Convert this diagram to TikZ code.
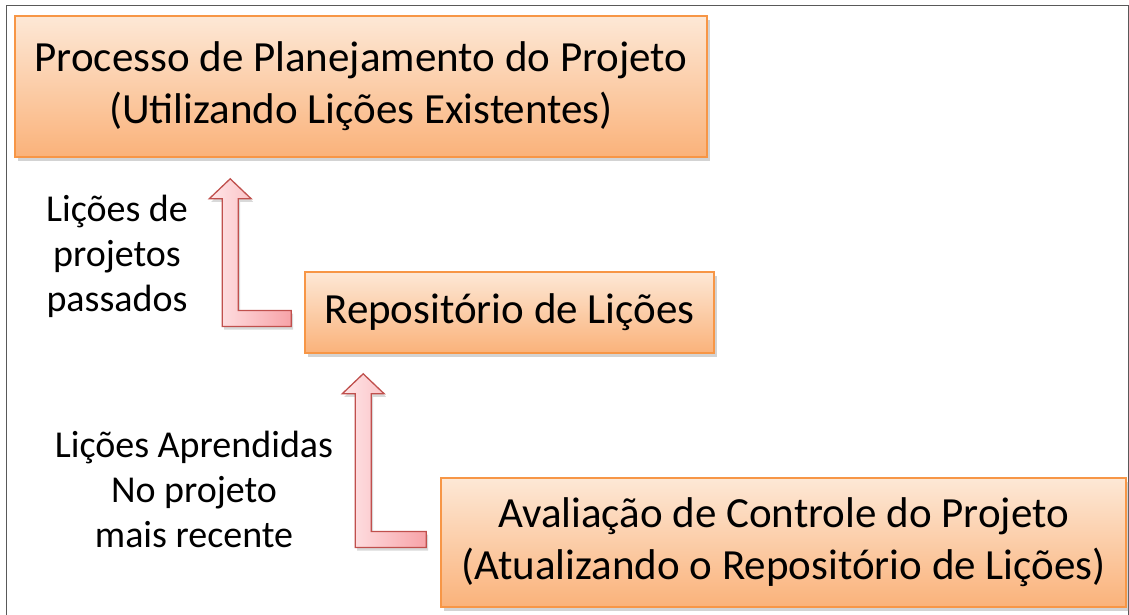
\documentclass[tikz,border=0pt]{standalone}
\usepackage{fontspec}
\setmainfont{Carlito}
\usepackage{tikz}
\usetikzlibrary{shadows,calc}

\definecolor{boxline}{HTML}{F79646}
\definecolor{boxtop}{HTML}{FDE8D6}
\definecolor{boxbottom}{HTML}{FAB27A}
\definecolor{arrline}{HTML}{C0504D}
\definecolor{arrleft}{HTML}{FFE6E8}
\definecolor{arrright}{HTML}{F7A3A8}

\begin{document}
\begin{tikzpicture}[x=1pt,y=-1pt,
    phase/.style={draw=boxline,line width=1.6pt,top color=boxtop,bottom color=boxbottom,
                  drop shadow={opacity=0.35,shadow xshift=3pt,shadow yshift=-4pt},
                  align=center,inner sep=0pt,font=\fontsize{43}{52}\selectfont},
    note/.style={align=center,font=\fontsize{38}{45}\selectfont},
    bent/.style={draw=arrline,line width=1.3pt,line join=miter,left color=arrleft,right color=arrright,
                 drop shadow={opacity=0.3,shadow xshift=2pt,shadow yshift=-3pt}}]
      \useasboundingbox (0,0) rectangle (1129,615);
      \draw[gray!70!black,line width=1pt] (6.5,5.5) rectangle (1128,640);

      \node[phase,minimum width=692pt,minimum height=141pt] (plan) at (361,86.5)
           {Processo de Planejamento do Projeto\\(Utilizando Lições Existentes)};
      \node[phase,minimum width=409pt,minimum height=81pt]  (repo) at (509.5,312.5)
           {Repositório de Lições};
      \node[phase,minimum width=685pt,minimum height=129pt] (eval) at (783.5,542.5)
           {Avaliação de Controle do Projeto\\(Atualizando o Repositório de Lições)};

      \node[note] (past) at (117,256) {Lições de\\projetos\\passados};
      \node[note] (learnt) at (194,489) {Lições Aprendidas\\No projeto\\mais recente};

      % bent-up arrows: tip under the upper box, foot next to the lower box
      \coordinate (tip1)  at ($(plan.south west)+(216,21)$);
      \coordinate (foot1) at ($(repo.west)+(-13,6)$);
      \coordinate (tip2)  at ($(repo.south west)+(59,20)$);
      \coordinate (foot2) at ($(eval.west)+(-14,-3)$);

      \foreach \t/\f in {tip1/foot1,tip2/foot2}
        \path[bent] let \p1=(\t), \p2=(\f) in
          (\p1) -- (\x1+21pt,\y1-20pt) -- (\x1+8pt,\y1-20pt) -- (\x1+8pt,\y2+8pt)
          -- (\x2,\y2+8pt) -- (\x2,\y2-8pt) -- (\x1-8pt,\y2-8pt)
          -- (\x1-8pt,\y1-20pt) -- (\x1-21pt,\y1-20pt) -- cycle;
\end{tikzpicture}
\end{document}
